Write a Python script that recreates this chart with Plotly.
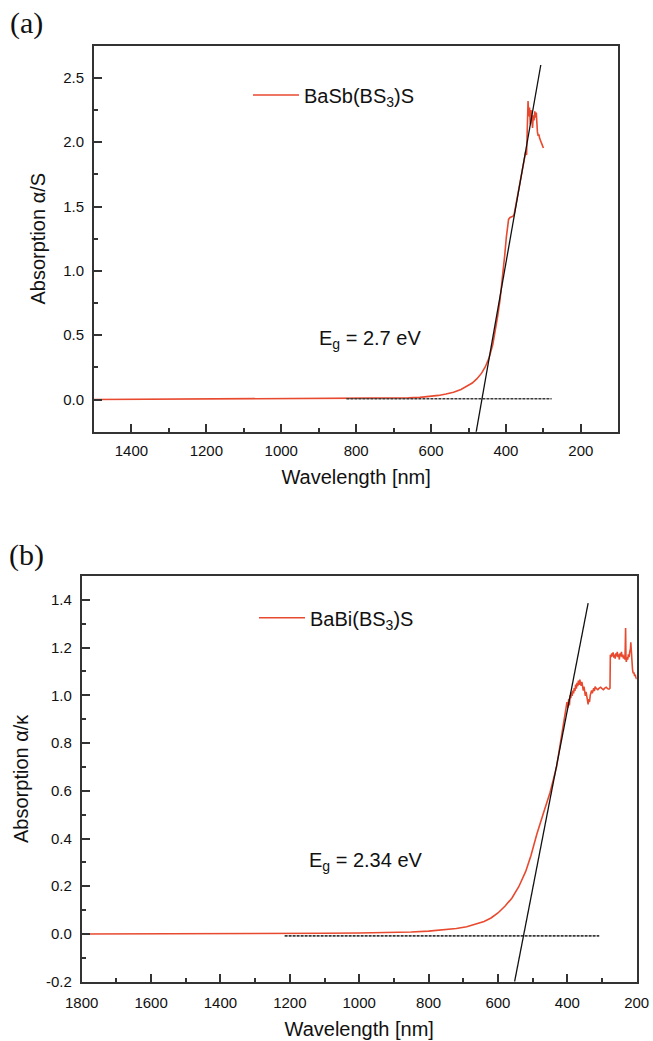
import plotly.graph_objects as go

# ---------------- data: panel (a) BaSb(BS3)S ----------------
wl_a = [1500, 1400, 1300, 1200, 1100, 1000, 900, 800, 750, 700,
        660, 630, 600, 580, 560, 540, 520, 505, 490, 478,
        465, 455, 445, 435, 428, 422, 416, 411, 407, 403,
        399, 396, 393, 389, 385, 381, 378, 372, 366, 360,
        355, 350, 347, 345, 343, 341, 339, 337, 335, 333,
        331, 329, 327, 325, 323, 321, 319, 318, 316, 314,
        312, 310, 308, 306, 304, 302, 300]
abs_a = [0.000, 0.001, 0.002, 0.003, 0.004, 0.005, 0.006, 0.007, 0.008, 0.010,
         0.013, 0.017, 0.024, 0.032, 0.043, 0.057, 0.078, 0.100, 0.128, 0.160,
         0.205, 0.255, 0.325, 0.430, 0.540, 0.650, 0.770, 0.890, 1.010, 1.130,
         1.260, 1.350, 1.400, 1.415, 1.420, 1.425, 1.440, 1.530, 1.620, 1.720,
         1.800, 1.880, 1.930, 1.900, 2.040, 2.320, 2.200, 2.270, 2.140, 2.250,
         2.180, 2.110, 2.210, 2.170, 2.240, 2.190, 2.230, 2.150, 2.080, 2.050,
         2.060, 2.030, 2.020, 2.000, 1.985, 1.970, 1.955]
tan_a_x = [480, 307]
tan_a_y = [-0.26, 2.60]
base_a_x = [826, 278]
base_a_y = [0.006, 0.006]
ytick_a_vals = [0.0, 0.5, 1.0, 1.5, 2.0, 2.5]
ytick_a_text = ["0.0", "0.5", "1.0", "1.5", "2.0", "2.5"]

# ---------------- data: panel (b) BaBi(BS3)S ----------------
wl_b = [1800, 1600, 1400, 1200, 1100, 1000, 900, 850, 800, 760,
        720, 690, 660, 640, 620, 600, 580, 560, 540, 520,
        505, 488, 469, 450, 431, 416, 407, 401, 398, 396,
        394, 392, 390, 388, 386, 384, 382, 380, 378, 376,
        374, 372, 370, 368, 366, 364, 362, 360, 358, 356,
        354, 352, 350, 348, 346, 344, 342, 340, 338, 336,
        334, 332, 330, 328, 326, 324, 322, 320, 316, 312,
        308, 304, 300, 296, 292, 288, 284, 280, 277, 276,
        274, 272, 270, 268, 266, 264, 262, 260, 258, 256,
        254, 252, 250, 248, 246, 244, 242, 240, 238, 236,
        234, 233, 232, 231, 230, 228, 226, 224, 222, 220,
        218, 217, 216, 214, 212, 210, 208, 206, 204, 202,
        200]
abs_b = [0.000, 0.000, 0.001, 0.002, 0.003, 0.004, 0.006, 0.008, 0.012, 0.016,
         0.023, 0.030, 0.042, 0.052, 0.067, 0.088, 0.116, 0.150, 0.198, 0.262,
         0.328, 0.418, 0.506, 0.592, 0.700, 0.828, 0.922, 0.972, 0.948, 0.985,
         0.958, 1.000, 0.988, 1.012, 0.998, 1.020, 1.008, 1.030, 1.018, 1.045,
         1.028, 1.052, 1.038, 1.062, 1.044, 1.066, 1.050, 1.040, 1.056, 1.030,
         1.020, 1.036, 1.008, 0.998, 1.014, 0.994, 0.988, 0.962, 0.984, 0.972,
         1.000, 1.014, 1.020, 1.008, 1.026, 1.030, 1.018, 1.036, 1.028, 1.024,
         1.030, 1.034, 1.028, 1.024, 1.030, 1.034, 1.028, 1.026, 1.030, 1.170,
         1.160, 1.176, 1.164, 1.180, 1.158, 1.170, 1.154, 1.176, 1.164, 1.182,
         1.160, 1.172, 1.150, 1.176, 1.164, 1.182, 1.160, 1.170, 1.154, 1.166,
         1.150, 1.200, 1.282, 1.160, 1.140, 1.160, 1.150, 1.172, 1.160, 1.182,
         1.196, 1.222, 1.190, 1.140, 1.108, 1.092, 1.096, 1.080, 1.086, 1.074,
         1.068]
tan_b_x = [552, 340]
tan_b_y = [-0.2, 1.386]
base_b_x = [1215, 308]
base_b_y = [-0.008, -0.008]
ytick_b_vals = [-0.2, 0.0, 0.2, 0.4, 0.6, 0.8, 1.0, 1.2, 1.4]
ytick_b_text = ["-0.2", "0.0", "0.2", "0.4", "0.6", "0.8", "1.0", "1.2", "1.4"]

RED = "#E84A2F"
FONT = "Liberation Sans, Arial, sans-serif"
SERIF = "Liberation Serif, Times New Roman, serif"
TXT = "#111111"
AX = "#333333"
BASE = "#3a3a3a"

fig = go.Figure()

# panel (a)
fig.add_trace(go.Scatter(x=wl_a, y=abs_a, mode="lines", name="BaSb(BS<sub>3</sub>)S",
                         line=dict(color=RED, width=1.6), xaxis="x", yaxis="y", legend="legend"))
fig.add_trace(go.Scatter(x=base_a_x, y=base_a_y, mode="lines", showlegend=False,
                         line=dict(color=BASE, width=1.6, dash="3px,1px"), xaxis="x", yaxis="y"))
fig.add_trace(go.Scatter(x=tan_a_x, y=tan_a_y, mode="lines", showlegend=False,
                         line=dict(color="#111111", width=1.3), xaxis="x", yaxis="y"))

# panel (b)
fig.add_trace(go.Scatter(x=wl_b, y=abs_b, mode="lines", name="BaBi(BS<sub>3</sub>)S",
                         line=dict(color=RED, width=1.6), xaxis="x2", yaxis="y2", legend="legend2"))
fig.add_trace(go.Scatter(x=base_b_x, y=base_b_y, mode="lines", showlegend=False,
                         line=dict(color=BASE, width=1.6, dash="3px,1px"), xaxis="x2", yaxis="y2"))
fig.add_trace(go.Scatter(x=tan_b_x, y=tan_b_y, mode="lines", showlegend=False,
                         line=dict(color="#111111", width=1.3), xaxis="x2", yaxis="y2"))

W, H = 653, 1041


def common(**kw):
    d = dict(showline=True, linecolor=AX, linewidth=1.8, mirror=True, automargin=False,
             showgrid=False, zeroline=False, ticks="inside", ticklen=8, tickwidth=1.5,
             tickcolor=AX, tickfont=dict(family=FONT, size=15, color=TXT))
    d.update(kw)
    return d


MINOR = dict(ticks="inside", ticklen=4, tickwidth=1.5, tickcolor=AX)

fig.update_layout(
    width=W, height=H, autosize=False,
    margin=dict(l=0, r=0, t=0, b=0),
    plot_bgcolor="white", paper_bgcolor="white",
    font=dict(family=FONT, color=TXT),
    xaxis=common(domain=[94 / W, 618.3 / W], anchor="y", range=[1500, 100],
                 tickmode="linear", tick0=0, dtick=200, ticklabelstandoff=4,
                 minor=dict(dtick=100, **MINOR),
                 title=dict(text="Wavelength [nm]", font=dict(family=FONT, size=20, color=TXT), standoff=12)),
    yaxis=common(domain=[1 - 431.7 / H, 1 - 45.7 / H], anchor="x", range=[-0.25, 2.75],
                 tickmode="array", tickvals=ytick_a_vals, ticktext=ytick_a_text, ticklabelstandoff=5,
                 minor=dict(tickmode="linear", tick0=0, dtick=0.25, **MINOR),
                 title=dict(text="Absorption α/S", font=dict(family=FONT, size=20, color=TXT), standoff=12)),
    xaxis2=common(domain=[81.7 / W, 636.7 / W], anchor="y2", range=[1800, 200],
                  tickmode="linear", tick0=0, dtick=200, ticklabelstandoff=6,
                  minor=dict(dtick=100, **MINOR),
                  title=dict(text="Wavelength [nm]", font=dict(family=FONT, size=20, color=TXT), standoff=12)),
    yaxis2=common(domain=[1 - 981.7 / H, 1 - 576 / H], anchor="x2", range=[-0.2, 1.5],
                  tickmode="array", tickvals=ytick_b_vals, ticktext=ytick_b_text, ticklabelstandoff=5,
                  minor=dict(tickmode="linear", tick0=0, dtick=0.1, **MINOR),
                  title=dict(text="Absorption α/κ", font=dict(family=FONT, size=20, color=TXT), standoff=12)),
    legend=dict(x=248 / W, y=1 - 95 / H, xanchor="left", yanchor="middle",
                bgcolor="rgba(0,0,0,0)", borderwidth=0, itemwidth=46,
                font=dict(family=FONT, size=20, color=TXT)),
    legend2=dict(x=254 / W, y=1 - 617.7 / H, xanchor="left", yanchor="middle",
                 bgcolor="rgba(0,0,0,0)", borderwidth=0, itemwidth=46,
                 font=dict(family=FONT, size=20, color=TXT)),
    annotations=[
        dict(text="(a)", x=8 / W, y=1 - 4 / H, xref="paper", yref="paper",
             xanchor="left", yanchor="top", showarrow=False,
             font=dict(family=SERIF, size=30, color=TXT)),
        dict(text="(b)", x=7 / W, y=1 - 536 / H, xref="paper", yref="paper",
             xanchor="left", yanchor="top", showarrow=False,
             font=dict(family=SERIF, size=30, color=TXT)),
        dict(text="E<sub>g</sub> = 2.7 eV", x=904, y=0.47, xref="x", yref="y",
             xanchor="left", yanchor="middle", showarrow=False,
             font=dict(family=FONT, size=20, color=TXT)),
        dict(text="E<sub>g</sub> = 2.34 eV", x=1150, y=0.305, xref="x2", yref="y2",
             xanchor="left", yanchor="middle", showarrow=False,
             font=dict(family=FONT, size=20, color=TXT)),
    ],
)

fig.write_html("out.html", config={"responsive": False})
